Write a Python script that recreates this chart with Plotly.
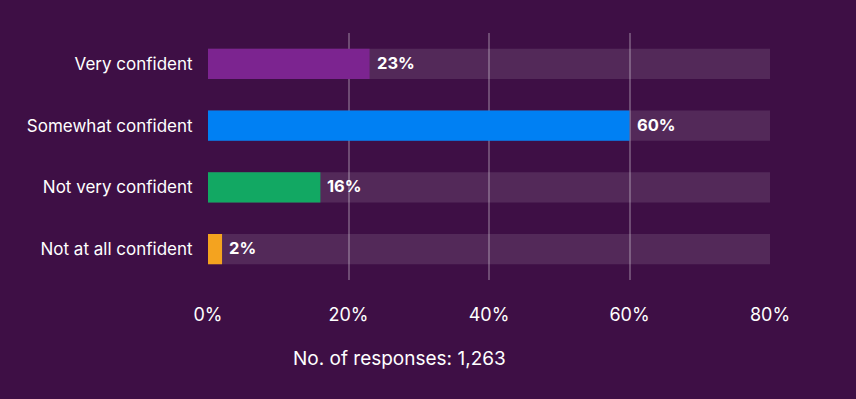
import plotly.graph_objects as go

categories = ["Very confident", "Somewhat confident", "Not very confident", "Not at all confident"]
values = [23, 60, 16, 2]
track_max = [80, 80, 80, 80]
bar_colors = ["#7c2490", "#0080f3", "#12a863", "#f4a31f"]
tick_vals = [0, 20, 40, 60, 80]
tick_text = ["0%", "20%", "40%", "60%", "80%"]
subtitle = "No. of responses: 1,263"

BG = "#3e0f45"
FONT = "Inter, 'Open Sans', sans-serif"

fig = go.Figure()
fig.add_trace(go.Bar(
    y=categories, x=track_max, orientation="h",
    marker=dict(color="rgba(255,255,255,0.11)", line=dict(width=0)),
    width=0.49, hoverinfo="skip", showlegend=False,
))
fig.add_trace(go.Bar(
    y=categories, x=values, orientation="h",
    marker=dict(color=bar_colors, line=dict(width=0), cornerradius=4),
    width=0.49, showlegend=False,
))

for c, v in zip(categories, values):
    fig.add_annotation(
        x=v, y=c, text=f"<b>{v}%</b>", showarrow=False,
        xanchor="left", xshift=5, yshift=1,
        font=dict(family=FONT, size=16.5, color="white"),
    )

fig.add_annotation(
    x=(399 - 208) / 562, y=-0.316, xref="paper", yref="paper",
    text=subtitle, showarrow=False, xanchor="center", yanchor="middle",
    font=dict(family=FONT, size=19, color="white"),
)

fig.update_layout(
    width=856, height=399,
    paper_bgcolor=BG, plot_bgcolor=BG,
    barmode="overlay",
    margin=dict(l=208, r=86, t=33, b=119),
    font=dict(family=FONT, color="white"),
    xaxis=dict(
        range=[0, 80], tickvals=tick_vals, ticktext=tick_text,
        showgrid=True, gridcolor="rgba(255,255,255,0.25)", gridwidth=2,
        zeroline=False, showline=False,
        ticks="outside", ticklen=18, tickcolor="rgba(0,0,0,0)",
        tickfont=dict(family=FONT, size=18, color="white"),
        fixedrange=True,
    ),
    yaxis=dict(
        autorange="reversed", showgrid=False, zeroline=False, showline=False,
        ticks="outside", ticklen=11, tickcolor="rgba(0,0,0,0)",
        tickfont=dict(family=FONT, size=17, color="white"),
        fixedrange=True,
    ),
)

fig.write_html(
    "out.html",
    config={"displayModeBar": False},
    post_script="document.body.style.margin='0';",
)
